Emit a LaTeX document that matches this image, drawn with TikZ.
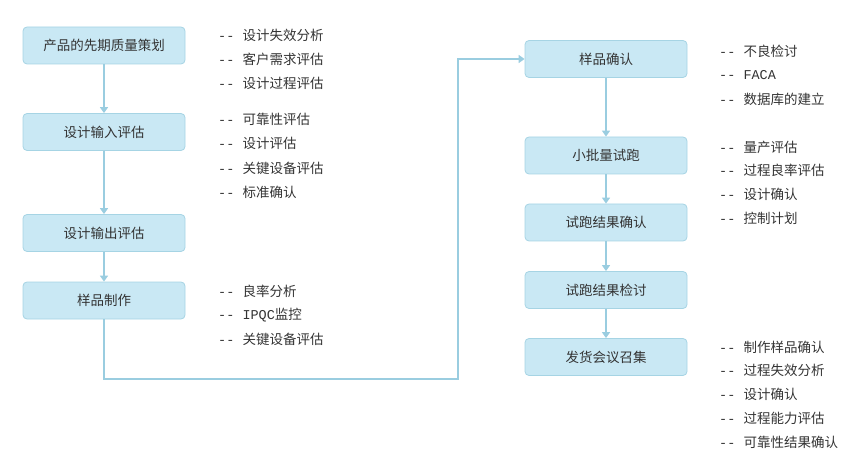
\documentclass[tikz,border=0pt]{standalone}
\usepackage{fontspec}
\setmainfont{Noto Sans CJK SC}
\newfontfamily\dashfont{Liberation Mono}
\usetikzlibrary{arrows.meta}

\definecolor{boxfill}{HTML}{C9E8F4}
\definecolor{boxline}{HTML}{A6D4E4}
\definecolor{linkline}{HTML}{9ACDE0}
\definecolor{inktext}{HTML}{333333}

\tikzset{
  stage/.style={draw=boxline, fill=boxfill, rounded corners=4pt, line width=0.8pt,
    minimum width=162pt, minimum height=37pt, inner sep=0pt,
    font=\fontsize{13.5}{16}\selectfont, text=inktext},
  note/.style={anchor=west, inner sep=0pt, font=\fontsize{13.5}{16}\selectfont, text=inktext},
  link/.style={draw=linkline, line width=2.6pt, -{Triangle[width=8pt,length=6pt]}}
}

\begin{document}
\begin{tikzpicture}[x=1pt, y=-1pt]
    \useasboundingbox (0, 0) rectangle (857, 473);

    % left column
    \node[stage] (s1) at (104, 45.5) {产品的先期质量策划};
    \node[stage] (s2) at (104, 132) {设计输入评估};
    \node[stage] (s3) at (104, 233) {设计输出评估};
    \node[stage] (s4) at (104, 300.5) {样品制作};

    % right column
    \node[stage] (s5) at (606, 59) {样品确认};
    \node[stage] (s6) at (606, 155.5) {小批量试跑};
    \node[stage] (s7) at (606, 222.5) {试跑结果确认};
    \node[stage] (s8) at (606, 290) {试跑结果检讨};
    \node[stage] (s9) at (606, 357) {发货会议召集};

    \draw[link] (s1) -- (s2);
    \draw[link] (s2) -- (s3);
    \draw[link] (s3) -- (s4);
    \coordinate (turn) at (458, 379);
    \draw[link] (s4.south) |- (turn) |- (s5.west);
    \draw[link] (s5) -- (s6);
    \draw[link] (s6) -- (s7);
    \draw[link] (s7) -- (s8);
    \draw[link] (s8) -- (s9);

    % notes
    \foreach \t [count=\i] in {设计失效分析, 客户需求评估, 设计过程评估}
        \node[note] (na\i) at (218, {35+24*\i-24}) {\dashfont-{}- \normalfont\t};
    \foreach \t [count=\i] in {可靠性评估, 设计评估, 关键设备评估, 标准确认}
        \node[note] (nb\i) at (218, {119+24.5*\i-24.5}) {\dashfont-{}- \normalfont\t};
    \foreach \t [count=\i] in {良率分析, {\dashfont IPQC}监控, 关键设备评估}
        \node[note] (nc\i) at (218, {291+24*\i-24}) {\dashfont-{}- \normalfont\t};
    \foreach \t [count=\i] in {不良检讨, {\dashfont FACA}, 数据库的建立}
        \node[note] (nd\i) at (719, {51+24*\i-24}) {\dashfont-{}- \normalfont\t};
    \foreach \t [count=\i] in {量产评估, 过程良率评估, 设计确认, 控制计划}
        \node[note] (ne\i) at (719, {147+23.7*\i-23.7}) {\dashfont-{}- \normalfont\t};
    \foreach \t [count=\i] in {制作样品确认, 过程失效分析, 设计确认, 过程能力评估, 可靠性结果确认}
        \node[note] (nf\i) at (719, {347+23.75*\i-23.75}) {\dashfont-{}- \normalfont\t};
\end{tikzpicture}
\end{document}
